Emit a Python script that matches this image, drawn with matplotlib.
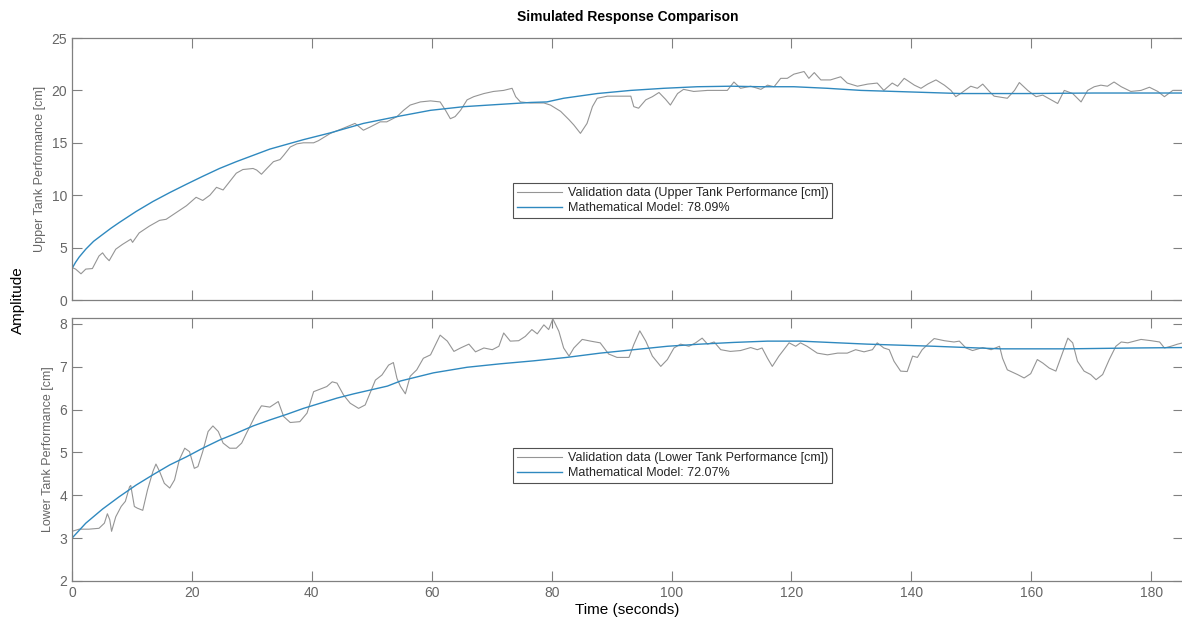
import matplotlib
matplotlib.use("Agg")
import matplotlib.pyplot as plt

plt.rcParams['font.family'] = ['Liberation Sans', 'DejaVu Sans']

# upper tank: measured response
upper_t = [0, 0.6, 1.5, 2.3, 3.4, 4.5, 5.1, 5.6, 6.2, 7.3, 8.4, 9.8, 10.1, 11.2, 12.9, 14.6,
           15.7, 17.4, 19.1, 20.2, 20.7, 21.8, 23.0, 24.1, 25.2, 26.3, 27.4, 28.5, 30.2, 30.8,
           31.6, 32.5, 33.6, 34.7, 35.3, 36.4, 37.5, 38.6, 40.3, 41.1, 43.1, 45.3, 47.2, 48.6,
           49.7, 51.4, 52.5, 54.2, 55.3, 56.4, 58.1, 59.8, 61.4, 62.3, 63.1, 63.9, 64.8, 65.9,
           67.0, 68.7, 70.3, 72.0, 73.4, 74.0, 74.8, 76.5, 78.7, 79.8, 81.5, 82.9, 83.7, 84.8,
           85.9, 86.8, 87.6, 89.3, 91.5, 93.2, 93.7, 94.5, 95.7, 96.8, 97.9, 99.0, 99.8, 101.0,
           102.0, 103.7, 106.0, 109.3, 110.4, 111.5, 113.2, 114.9, 116.0, 117.1, 118.2, 119.3,
           120.4, 122.1, 122.9, 123.8, 124.9, 126.5, 128.2, 129.3, 131.0, 132.7, 134.3, 135.4,
           136.8, 137.7, 138.8, 140.5, 141.6, 142.7, 144.1, 145.5, 146.6, 147.4, 148.2, 149.9,
           151.0, 151.9, 153.0, 153.8, 156.0, 157.2, 158.0, 159.4, 160.8, 161.9, 163.3, 164.4,
           165.5, 166.9, 168.3, 169.4, 170.5, 171.6, 172.7, 173.8, 175.0, 176.6, 178.3, 179.7,
           181.1, 182.2, 183.6, 185.3]
upper_meas = [3.1, 2.95, 2.5, 2.95, 3.0, 4.2, 4.5, 4.1, 3.75, 4.85, 5.3, 5.8, 5.5, 6.4, 7.05, 7.6,
              7.7, 8.35, 9.0, 9.55, 9.8, 9.5, 10.0, 10.75, 10.5, 11.3, 12.1, 12.45, 12.55, 12.4,
              12.0, 12.55, 13.2, 13.4, 13.8, 14.6, 14.9, 15.0, 15.0, 15.2, 15.9, 16.4, 16.85, 16.2,
              16.5, 17.0, 17.0, 17.5, 18.1, 18.6, 18.9, 19.0, 18.9, 18.1, 17.3, 17.5, 18.1, 19.1,
              19.4, 19.7, 19.9, 20.0, 20.2, 19.4, 18.9, 18.8, 18.8, 18.6, 18.0, 17.2, 16.7, 15.9,
              16.85, 18.45, 19.25, 19.45, 19.45, 19.45, 18.45, 18.3, 19.1, 19.4, 19.8, 19.15, 18.6, 19.7,
              20.1, 19.9, 20.0, 20.0, 20.8, 20.2, 20.4, 20.1, 20.5, 20.35, 21.15, 21.15,
              21.55, 21.8, 21.15, 21.7, 21.0, 21.0, 21.3, 20.7, 20.4, 20.6, 20.7, 20.0,
              20.7, 20.4, 21.15, 20.5, 20.2, 20.6, 21.0, 20.5, 20.0, 19.4, 19.7, 20.4,
              20.2, 20.6, 19.9, 19.45, 19.25, 20.0, 20.75, 20.0, 19.4, 19.55, 19.1, 18.75,
              20.0, 19.7, 18.9, 20.0, 20.35, 20.5, 20.4, 20.8, 20.35, 19.9, 20.0, 20.3,
              19.9, 19.4, 20.0, 20.0]

# upper tank: model output
upper_model_t = [0, 0.6, 1.2, 2.3, 3.6, 5.1, 6.5, 7.9, 10.7, 13.5, 16.3, 19.1, 21.8, 24.6, 27.4,
                 30.2, 33.0, 35.8, 38.6, 43.1, 48.6, 54.2, 59.8, 65.4, 70.9, 76.5, 79.2, 82.0,
                 87.6, 93.2, 98.7, 104.3, 109.9, 114.9, 120.4, 126.0, 131.6, 137.2, 142.7, 148.2,
                 159.4, 170.5, 185.3]
upper_model = [3.0, 3.6, 4.1, 4.85, 5.6, 6.25, 6.85, 7.4, 8.45, 9.4, 10.25, 11.05, 11.8, 12.55, 13.2,
               13.8, 14.4, 14.85, 15.3, 15.95, 16.85, 17.5, 18.1, 18.45, 18.65, 18.85, 18.9, 19.25,
               19.7, 20.0, 20.2, 20.35, 20.4, 20.35, 20.35, 20.2, 20.0, 19.9, 19.8, 19.7,
               19.7, 19.75, 19.75]

# lower tank: measured response
lower_t = [0, 1.2, 2.8, 4.5, 5.4, 5.9, 6.3, 6.6, 7.3, 8.2, 8.9, 9.6, 9.8, 10.4, 10.9, 11.8,
           12.6, 13.5, 14.0, 14.6, 15.4, 16.3, 17.1, 17.9, 18.8, 19.6, 20.4, 21.0, 21.8, 22.7,
           23.5, 24.4, 25.2, 26.3, 27.4, 28.3, 29.1, 30.5, 31.6, 33.0, 34.4, 35.3, 36.4, 38.0,
           39.2, 40.3, 41.4, 42.5, 43.4, 44.2, 45.3, 46.4, 47.8, 48.9, 49.8, 50.6, 51.7, 52.8,
           53.6, 54.2, 54.8, 55.6, 56.4, 57.5, 58.6, 59.8, 61.4, 62.6, 63.7, 64.8, 66.2, 67.3,
           68.7, 70.1, 71.2, 72.0, 73.1, 74.5, 75.6, 76.7, 77.6, 78.7, 79.5, 80.2, 81.2, 82.0,
           82.9, 83.7, 85.1, 86.5, 88.1, 89.5, 90.9, 92.9, 93.7, 94.7, 95.7, 96.8, 98.2, 99.3,
           100.4, 101.5, 102.9, 104.0, 105.1, 106.0, 107.1, 108.2, 109.8, 111.5, 113.2, 114.3,
           115.1, 116.0, 116.8, 117.9, 119.6, 120.7, 121.5, 122.6, 124.3, 126.0, 127.7, 129.3,
           130.7, 132.1, 133.5, 134.3, 135.4, 136.3, 137.1, 138.2, 139.3, 140.2, 141.0, 141.8,
           143.0, 143.8, 145.5, 147.1, 148.0, 149.1, 150.2, 151.9, 153.3, 154.7, 155.2, 156.0,
           157.7, 158.8, 159.9, 161.0, 161.9, 163.0, 164.1, 165.2, 166.1, 166.9, 167.7, 168.8,
           169.9, 170.8, 171.9, 173.0, 174.1, 175.0, 176.1, 177.2, 178.3, 180.0, 181.4, 182.2,
           183.3, 184.4, 185.3]
lower_meas = [3.16, 3.21, 3.21, 3.23, 3.35, 3.57, 3.43, 3.16, 3.5, 3.74, 3.86, 4.2, 4.23, 3.74, 3.7, 3.65,
              4.13, 4.56, 4.73, 4.56, 4.28, 4.17, 4.36, 4.83, 5.1, 5.02, 4.63, 4.67, 5.02, 5.49,
              5.62, 5.49, 5.22, 5.1, 5.1, 5.22, 5.45, 5.84, 6.09, 6.06, 6.19, 5.84, 5.7, 5.72,
              5.92, 6.42, 6.48, 6.54, 6.65, 6.62, 6.34, 6.15, 6.03, 6.11, 6.42, 6.69, 6.81, 7.04,
              7.1, 6.73, 6.54, 6.37, 6.78, 6.93, 7.2, 7.28, 7.74, 7.6, 7.36, 7.44, 7.53, 7.35,
              7.44, 7.4, 7.48, 7.79, 7.6, 7.61, 7.71, 7.87, 7.77, 7.98, 7.87, 8.12, 7.83, 7.44,
              7.25, 7.44, 7.64, 7.6, 7.56, 7.3, 7.22, 7.22, 7.52, 7.84, 7.6, 7.25, 7.01, 7.17,
              7.44, 7.53, 7.48, 7.56, 7.67, 7.53, 7.58, 7.4, 7.36, 7.38, 7.45, 7.4,
              7.44, 7.2, 7.01, 7.25, 7.56, 7.48, 7.56, 7.48, 7.32, 7.28, 7.32, 7.32,
              7.4, 7.35, 7.4, 7.56, 7.44, 7.4, 7.13, 6.9, 6.89, 7.25, 7.22, 7.4,
              7.56, 7.66, 7.61, 7.58, 7.6, 7.44, 7.38, 7.45, 7.4, 7.48, 7.2, 6.93,
              6.82, 6.74, 6.84, 7.17, 7.09, 6.97, 6.9, 7.32, 7.67, 7.56, 7.13, 6.9,
              6.82, 6.7, 6.82, 7.17, 7.48, 7.58, 7.56, 7.6, 7.64, 7.61, 7.58, 7.44,
              7.48, 7.53, 7.56]

# lower tank: model output
lower_model_t = [0, 2.3, 5.1, 7.9, 10.7, 13.5, 16.3, 19.1, 21.8, 24.6, 27.4, 30.2, 33.0, 35.8,
                 38.6, 41.4, 44.2, 47.0, 49.8, 52.6, 54.8, 60.3, 65.9, 71.4, 77.0, 82.5, 88.1,
                 93.7, 99.3, 104.8, 110.4, 116.0, 121.5, 132.6, 143.8, 154.9, 166.1, 177.2, 185.3]
lower_model = [3.0, 3.35, 3.68, 3.97, 4.24, 4.48, 4.71, 4.9, 5.1, 5.29, 5.45, 5.62, 5.76, 5.89,
               6.03, 6.15, 6.27, 6.37, 6.46, 6.55, 6.67, 6.86, 6.99, 7.07, 7.14, 7.22, 7.32,
               7.4, 7.48, 7.53, 7.57, 7.6, 7.6, 7.53, 7.48, 7.42, 7.42, 7.44, 7.45]

upper_fit = 78.09
lower_fit = 72.07

W, H = 1182, 625
fig = plt.figure(figsize=(W / 100, H / 100), dpi=100)
ax1 = fig.add_axes([72 / W, 1 - 300 / H, 1111 / W, 262 / H])
ax2 = fig.add_axes([72 / W, 1 - 581 / H, 1111 / W, 263 / H])

meas_color = '#959595'
model_color = '#2f89bf'
axis_color = '#808080'
text_color = '#666666'

panels = [
    (ax1, upper_t, upper_meas, upper_model_t, upper_model, 'Upper Tank Performance [cm]',
     upper_fit, (0, 25), range(0, 26, 5), (0.397, 0.313)),
    (ax2, lower_t, lower_meas, lower_model_t, lower_model, 'Lower Tank Performance [cm]',
     lower_fit, (2, 8.14), range(2, 9), (0.397, 0.373)),
]

for ax, t, meas, mt, model, name, fit, ylim, yticks, leg_pos in panels:
    ax.plot(t, meas, color=meas_color, lw=0.8,
            label='Validation data (%s)' % name)
    ax.plot(mt, model, color=model_color, lw=1.0,
            label='Mathematical Model: %.2f%%' % fit)
    ax.set_xlim(0, 185.3)
    ax.set_ylim(*ylim)
    ax.set_yticks(list(yticks))
    ax.set_xticks(range(0, 181, 20))
    ax.set_ylabel(name, color=text_color, fontsize=9, labelpad=4)
    ax.tick_params(direction='in', top=True, right=True, colors=axis_color,
                   labelcolor=text_color, labelsize=10, length=7, width=0.8)
    for sp in ax.spines.values():
        sp.set_color(axis_color)
        sp.set_linewidth(0.9)
    leg = ax.legend(loc='lower left', bbox_to_anchor=leg_pos, fontsize=9,
                    frameon=True, fancybox=False, handlelength=3.6,
                    borderpad=0.3, labelspacing=0.25, handletextpad=0.5,
                    borderaxespad=0)
    leg.get_frame().set_edgecolor('#262626')
    leg.get_frame().set_linewidth(0.8)
    for txt in leg.get_texts():
        txt.set_color('#262626')

ax1.tick_params(labelbottom=False)
ax2.set_xlabel('Time (seconds)', fontsize=11, labelpad=2)
ax1.set_title('Simulated Response Comparison', fontsize=10, fontweight='bold', pad=12)
fig.text(18 / W, 1 - 300 / H, 'Amplitude', rotation=90, fontsize=11,
         ha='center', va='center')

fig.savefig('out.png', dpi=100)
